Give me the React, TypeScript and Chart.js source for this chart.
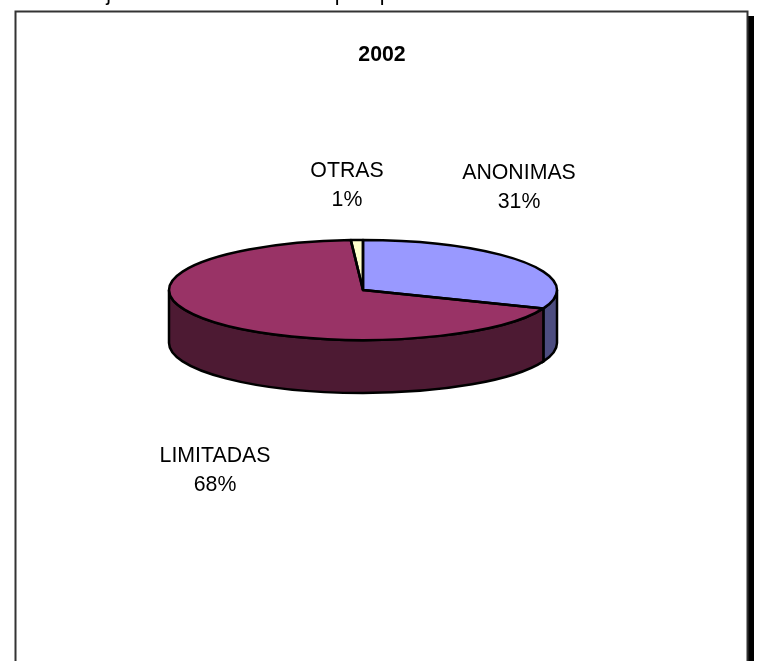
import React, { useEffect, useRef } from "react";
import { Chart, registerables } from "chart.js";

Chart.register(...registerables);

const categories = ["ANONIMAS", "LIMITADAS", "OTRAS"];
const shares = [31, 68, 1];
const topColors = ["#9999FF", "#993366", "#FFFFCC"];
const sideColors = ["#4D4D80", "#4D1A33", "#808066"];
const chartTitle = "2002";
const clippedCaption = "Porcentajes de sociedades de capital por forma societaria en el año 2002";

const FONT = '"Liberation Sans", Arial, sans-serif';
const SQUASH = 0.2577;
const DEPTH = 53;
const LINE = 2.5;
const labelAnchors = [
  { x: 519, y: 173 },
  { x: 215, y: 456 },
  { x: 347, y: 171 },
];

const squashPie = {
  id: "squashPie",
  beforeDatasetDraw(chart: any) {
    const ctx = chart.ctx;
    const arcs = chart.getDatasetMeta(0).data;
    const { x: cx, y: cy, outerRadius: rx } = arcs[0];
    const ry = rx * SQUASH;
    ctx.save();
    ctx.lineWidth = LINE;
    ctx.strokeStyle = "#000";
    arcs.forEach((arc: any, i: number) => {
      const a0 = Math.max(arc.startAngle, 0);
      const a1 = Math.min(arc.endAngle, Math.PI);
      if (a1 <= a0) return;
      ctx.beginPath();
      ctx.ellipse(cx, cy, rx, ry, 0, a0, a1);
      ctx.lineTo(cx + rx * Math.cos(a1), cy + ry * Math.sin(a1) + DEPTH);
      ctx.ellipse(cx, cy + DEPTH, rx, ry, 0, a1, a0, true);
      ctx.closePath();
      ctx.fillStyle = sideColors[i];
      ctx.fill();
      ctx.stroke();
    });
    ctx.restore();
    ctx.save();
    ctx.translate(cx, cy);
    ctx.scale(1, SQUASH);
    ctx.translate(-cx, -cy);
  },
  afterDatasetDraw(chart: any) {
    const ctx = chart.ctx;
    ctx.restore();
    const arcs = chart.getDatasetMeta(0).data;
    const { x: cx, y: cy, outerRadius: rx } = arcs[0];
    const ry = rx * SQUASH;
    ctx.save();
    ctx.lineWidth = LINE;
    ctx.strokeStyle = "#000";
    ctx.lineJoin = "round";
    arcs.forEach((arc: any) => {
      ctx.beginPath();
      ctx.moveTo(cx, cy);
      ctx.ellipse(cx, cy, rx, ry, 0, arc.startAngle, arc.endAngle);
      ctx.closePath();
      ctx.stroke();
    });
    ctx.restore();
  },
  afterDraw(chart: any) {
    const ctx = chart.ctx;
    const total = shares.reduce((a, b) => a + b, 0);
    ctx.save();
    ctx.fillStyle = "#000";
    ctx.textAlign = "center";
    ctx.textBaseline = "middle";
    ctx.font = `21.3px ${FONT}`;
    categories.forEach((name, i) => {
      const p = labelAnchors[i];
      ctx.fillText(name, p.x, p.y);
      ctx.fillText(`${Math.round((shares[i] / total) * 100)}%`, p.x, p.y + 29);
    });
    ctx.restore();
  },
};

const frame = {
  id: "frame",
  beforeDraw(chart: any) {
    const ctx = chart.ctx;
    const { width, height } = chart;
    ctx.save();
    ctx.fillStyle = "#fff";
    ctx.fillRect(0, 0, width, height);
    ctx.fillStyle = "#000";
    ctx.fillRect(748, 16, 6, height - 16);
    ctx.strokeStyle = "#333";
    ctx.lineWidth = 2;
    ctx.strokeRect(15.5, 11.5, 732, height + 20);
    ctx.fillStyle = "#000";
    ctx.font = `21.3px ${FONT}`;
    ctx.textAlign = "left";
    ctx.textBaseline = "alphabetic";
    ctx.fillText(clippedCaption, 21, 0);
    ctx.restore();
  },
};

export default function App() {
  const ref = useRef<HTMLCanvasElement>(null);
  useEffect(() => {
    const chart = new Chart(ref.current!, {
      type: "pie",
      data: {
        labels: categories,
        datasets: [{ data: shares, backgroundColor: topColors, borderWidth: 0 }],
      },
      plugins: [frame, squashPie],
      options: {
        responsive: false,
        animation: false,
        layout: { padding: { left: 169, right: 205, top: 96, bottom: 177 } },
        plugins: {
          legend: { display: false },
          tooltip: { enabled: false },
          title: { display: false, text: chartTitle },
          subtitle: { display: false },
        },
      },
    } as any);
    return () => chart.destroy();
  }, []);
  return (
    <div style={{ position: "fixed", left: 0, top: 0, width: 762, height: 661, overflow: "hidden" }}>
      <canvas ref={ref} width={762} height={661} style={{ display: "block" }} />
      <div
        style={{
          position: "absolute",
          left: 0,
          width: 764,
          top: 44,
          textAlign: "center",
          font: `bold 21.3px ${FONT}`,
          lineHeight: "21px",
        }}
      >
        {chartTitle}
      </div>
    </div>
  );
}
